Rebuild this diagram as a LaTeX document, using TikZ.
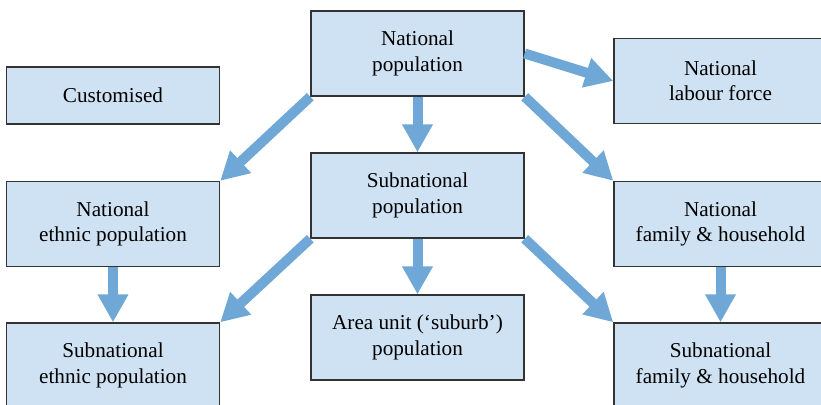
\documentclass[tikz,border=0pt]{standalone}
\usepackage{fontspec}
\setmainfont{Liberation Serif}
\usetikzlibrary{arrows.meta}
\definecolor{boxfill}{HTML}{CFE2F3}
\definecolor{flowblue}{HTML}{6FA8D6}
\begin{document}
\begin{tikzpicture}[x=0.5pt,y=-0.5pt,
  unit/.style={draw=black!80,line width=0.7pt,fill=boxfill,minimum width=106.5pt,minimum height=42.5pt,inner sep=0pt,align=center,font=\fontsize{10.6}{12.7}\selectfont},
  flow/.style={flowblue,line width=5pt,-{Triangle[width=14.5pt,length=14pt]}}]
  \useasboundingbox (0,0) rectangle (821,404);
  \node[unit,minimum height=28.5pt] (cust) at (113,95.5) {Customised};
  \node[unit] (natpop) at (417.5,53.5) {National\\population};
  \node[unit] (labour) at (720.5,81) {National\\labour force};
  \node[unit] (natethnic) at (113,224) {National\\ethnic population};
  \node[unit] (subpop) at (417.5,195.5) {Subnational\\population};
  \node[unit] (natfam) at (720.5,224) {National\\family \& household};
  \node[unit] (subethnic) at (113,365.5) {Subnational\\ethnic population};
  \node[unit] (area) at (417.5,337.5) {Area unit (`suburb')\\population};
  \node[unit] (subfam) at (720.5,365.5) {Subnational\\family \& household};
  \draw[flow] (natpop) -- (subpop);
  \draw[flow] (natpop.south west) -- (natethnic.north east);
  \draw[flow] (natpop.east) -- (labour.west);
  \draw[flow] (natpop.south east) -- (natfam.north west);
  \draw[flow] (subpop) -- (area);
  \draw[flow] (subpop.south west) -- (subethnic.north east);
  \draw[flow] (subpop.south east) -- (subfam.north west);
  \draw[flow] (natethnic) -- (subethnic);
  \draw[flow] (natfam) -- (subfam);
\end{tikzpicture}
\end{document}
